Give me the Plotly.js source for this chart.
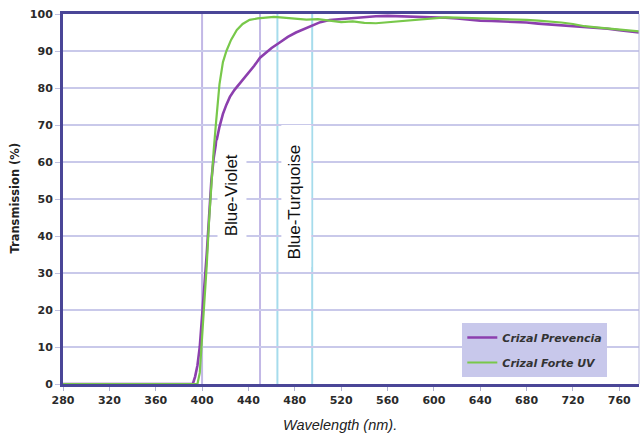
<!DOCTYPE html>
<html>
<head>
<meta charset="utf-8">
<script src="https://cdn.plot.ly/plotly-3.0.1.min.js"></script>
<style>html,body{margin:0;padding:0;background:#fff;}#chart{width:641px;height:441px;}</style>
</head>
<body>
<div id="chart"></div>
<script>
// ---- data ----
const xTicks = [280, 320, 360, 400, 440, 480, 520, 560, 600, 640, 680, 720, 760];
const yTicks = [0, 10, 20, 30, 40, 50, 60, 70, 80, 90, 100];

const prevenciaName = "Crizal Prevencia";
const prevenciaWl = [280, 392, 394, 396, 398, 400, 402, 404, 406, 408, 410, 412, 415, 418, 421, 424, 428, 432, 436, 440, 445, 450, 455, 460, 467, 474, 481, 488, 495, 502, 510, 520, 530, 540, 550, 560, 570, 580, 590, 600, 610, 620, 630, 640, 650, 660, 670, 680, 690, 700, 710, 720, 730, 740, 750, 760, 770, 777];
const prevenciaT  = [0, 0, 2, 5, 10, 18, 25, 35, 45, 55, 61, 65, 69.5, 73, 75.5, 77.6, 79.5, 81, 82.5, 84, 86, 88.2, 89.5, 90.8, 92.3, 93.8, 95, 96, 97, 97.8, 98.4, 98.7, 98.9, 99.2, 99.4, 99.5, 99.4, 99.5, 99.3, 99.2, 99, 98.8, 98.4, 98.2, 98.1, 98, 97.8, 97.7, 97.4, 97.2, 97, 96.8, 96.5, 96.2, 96, 95.6, 95.2, 95];

const forteName = "Crizal Forte UV";
const forteWl = [280, 396, 398, 400, 402, 404, 406, 408, 410, 412, 415, 418, 421, 425, 430, 435, 441, 448, 455, 462, 470, 480, 490, 500, 510, 520, 530, 540, 550, 560, 570, 580, 590, 600, 610, 620, 630, 640, 650, 660, 670, 680, 690, 700, 710, 720, 730, 740, 750, 760, 770, 777];
const forteT  = [0, 0, 3, 12, 22, 32, 44, 55, 63, 70.5, 81, 87, 90, 93, 95.7, 97.3, 98.4, 98.8, 99, 99.2, 99, 98.8, 98.5, 98.6, 98.2, 97.8, 98, 97.6, 97.5, 97.8, 98, 98.2, 98.6, 99, 99.1, 99, 98.9, 99, 98.8, 98.7, 98.6, 98.4, 98.2, 98, 97.7, 97.3, 96.7, 96.4, 96.1, 95.9, 95.6, 95.3];

const bandNames = ["Blue-Violet", "Blue-Turquoise"];
const bandStart = [400, 465];
const bandEnd   = [450, 495];
const bandLabelY = [51, 49.3];

// ---- styling ----
const axisNavy = "#4a4697";
const gridLav = "#c9c9ea";
const bandColors = ["#c2b8e6", "#a6dcec"];

const traces = [
  {x: prevenciaWl, y: prevenciaT, name: prevenciaName, type: "scatter", mode: "lines",
   line: {color: "#8c3fae", width: 2.6}, legendgroup: "a"},
  {x: forteWl, y: forteT, name: forteName, type: "scatter", mode: "lines",
   line: {color: "#78c84a", width: 2.2}, legendgroup: "b"}
];

const shapes = [];
const annotations = [];
for (let i = 0; i < bandNames.length; i++) {
  [bandStart[i], bandEnd[i]].forEach(v => shapes.push({
    type: "line", xref: "x", yref: "paper", x0: v, x1: v, y0: 0, y1: 1,
    line: {color: bandColors[i], width: 2}, layer: "below"
  }));
}
// white label boxes
shapes.push({type: "rect", xref: "x", yref: "y", x0: 413.3, x1: 438.3, y0: 36.2, y1: 65.9,
  fillcolor: "#ffffff", line: {width: 0}, layer: "above"});
shapes.push({type: "rect", xref: "x", yref: "y", x0: 468.4, x1: 494.2, y0: 31.6, y1: 70,
  fillcolor: "#ffffff", line: {width: 0}, layer: "above"});
// thin right border
shapes.push({type: "line", xref: "paper", yref: "paper", x0: 1, x1: 1, y0: 0, y1: 1,
  line: {color: "#b8b8dc", width: 1}});

for (let i = 0; i < bandNames.length; i++) {
  annotations.push({
    x: (bandStart[i] + bandEnd[i]) / 2, y: bandLabelY[i], xref: "x", yref: "y",
    text: bandNames[i], textangle: -90, showarrow: false,
    font: {family: "Liberation Sans, Arial, sans-serif", size: 17, color: "#111"}
  });
}
annotations.push({
  x: (340 - 63) / 577, y: -(425 - 384) / 370, xref: "paper", yref: "paper",
  text: "Wavelength (nm).", showarrow: false, xanchor: "center", yanchor: "middle",
  font: {family: "Liberation Sans, Arial, sans-serif", size: 14.5, color: "#222", style: "italic"}
});
annotations.push({
  x: (14 - 63) / 577, y: (384 - 198.5) / 370, xref: "paper", yref: "paper",
  text: "Transmission (%)", showarrow: false, textangle: -90, xanchor: "center", yanchor: "middle",
  font: {family: "DejaVu Sans, sans-serif", size: 11.5, color: "#222", weight: "bold"}
});

const layout = {
  width: 641, height: 441,
  margin: {l: 63, r: 2, t: 14, b: 57},
  paper_bgcolor: "#ffffff", plot_bgcolor: "#ffffff",
  showlegend: true,
  legend: {
    x: (463 - 63) / 577, y: (384 - 323) / 370, xanchor: "left", yanchor: "top",
    bgcolor: "#c8c8eb", borderwidth: 0, traceorder: "grouped", tracegroupgap: 6,
    font: {family: "DejaVu Sans, sans-serif", size: 11, color: "#333", weight: "bold", style: "italic"}
  },
  xaxis: {
    range: [280, 777], tickvals: xTicks, ticktext: xTicks.map(String),
    showgrid: false, zeroline: false,
    showline: true, linecolor: axisNavy, linewidth: 3, mirror: true,
    ticks: "outside", ticklen: 4, tickcolor: "#b0b0d0", tickwidth: 1,
    tickfont: {family: "DejaVu Sans, sans-serif", size: 11, color: "#2a2a2a", weight: "bold"}
  },
  yaxis: {
    range: [0, 100], tickvals: yTicks, ticktext: yTicks.map(String),
    showgrid: true, gridcolor: gridLav, gridwidth: 1.2, zeroline: false,
    showline: true, linecolor: axisNavy, linewidth: 3,
    ticks: "outside", ticklen: 5, tickcolor: "#c0c0e0", tickwidth: 1,
    tickfont: {family: "DejaVu Sans, sans-serif", size: 11, color: "#2a2a2a", weight: "bold"}
  },
  shapes: shapes,
  annotations: annotations
};

Plotly.newPlot("chart", traces, layout, {displayModeBar: false, staticPlot: true});
</script>
</body>
</html>
